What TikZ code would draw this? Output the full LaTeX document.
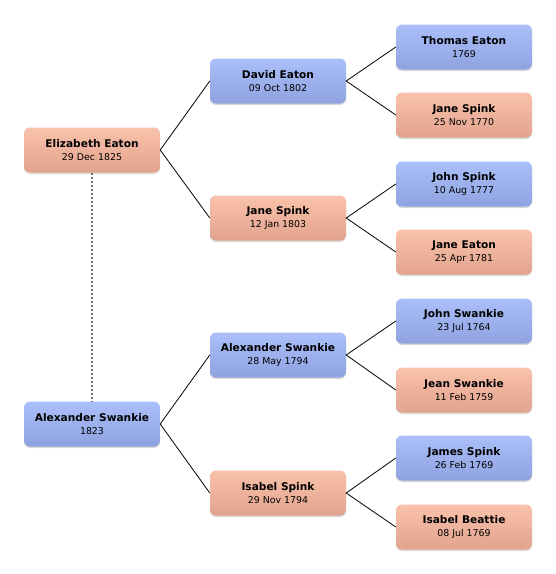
\documentclass[tikz,border=0pt]{standalone}
\usepackage{fontspec}
\setmainfont{DejaVu Sans}
\usetikzlibrary{shadows}
\definecolor{pinkT}{HTML}{FAC2AA}
\definecolor{pinkB}{HTML}{E2A38E}
\definecolor{blueT}{HTML}{ABC0FA}
\definecolor{blueB}{HTML}{8DA2DF}
\tikzset{
  person/.style={minimum width=136pt, minimum height=45pt, rounded corners=6pt,
    inner sep=0pt, align=center, draw=none,
    drop shadow={shadow xshift=0pt, shadow yshift=-1.5pt, opacity=0.25, fill=black!60}},
  female/.style={person, top color=pinkT, bottom color=pinkB},
  male/.style={person, top color=blueT, bottom color=blueB},
  link/.style={draw=black, line width=0.8pt},
  spouse/.style={draw=black!55, line width=1.5pt, dash pattern=on 2pt off 2pt}
}
\newcommand{\pname}[2]{{\fontsize{10.6}{12}\selectfont\bfseries #1}\\[0.5pt]{\fontsize{9.4}{11}\selectfont #2}}
\begin{document}
\begin{tikzpicture}[x=1pt,y=-1pt]
\useasboundingbox (0,0) rectangle (556,574);
% level 0
\node[female] (ee) at (92,150) {\pname{Elizabeth Eaton}{29 Dec 1825}};
\node[male] (as0) at (92,424) {\pname{Alexander Swankie}{1823}};
% level 1
\node[male] (de) at (278,81) {\pname{David Eaton}{09 Oct 1802}};
\node[female] (js1) at (278,218) {\pname{Jane Spink}{12 Jan 1803}};
\node[male] (as1) at (278,355) {\pname{Alexander Swankie}{28 May 1794}};
\node[female] (is1) at (278,493) {\pname{Isabel Spink}{29 Nov 1794}};
% level 2
\node[male] (te) at (464,47) {\pname{Thomas Eaton}{1769}};
\node[female] (js2) at (464,115) {\pname{Jane Spink}{25 Nov 1770}};
\node[male] (jsp) at (464,184) {\pname{John Spink}{10 Aug 1777}};
\node[female] (je) at (464,252) {\pname{Jane Eaton}{25 Apr 1781}};
\node[male] (jsw) at (464,321) {\pname{John Swankie}{23 Jul 1764}};
\node[female] (jes) at (464,390) {\pname{Jean Swankie}{11 Feb 1759}};
\node[male] (jas) at (464,458) {\pname{James Spink}{26 Feb 1769}};
\node[female] (ib) at (464,527) {\pname{Isabel Beattie}{08 Jul 1769}};
% connectors
\draw[spouse] (ee.south) -- (as0.north);
\draw[link] (de.west) -- (ee.east) -- (js1.west);
\draw[link] (as1.west) -- (as0.east) -- (is1.west);
\draw[link] (te.west) -- (de.east) -- (js2.west);
\draw[link] (jsp.west) -- (js1.east) -- (je.west);
\draw[link] (jsw.west) -- (as1.east) -- (jes.west);
\draw[link] (jas.west) -- (is1.east) -- (ib.west);
\end{tikzpicture}
\end{document}
